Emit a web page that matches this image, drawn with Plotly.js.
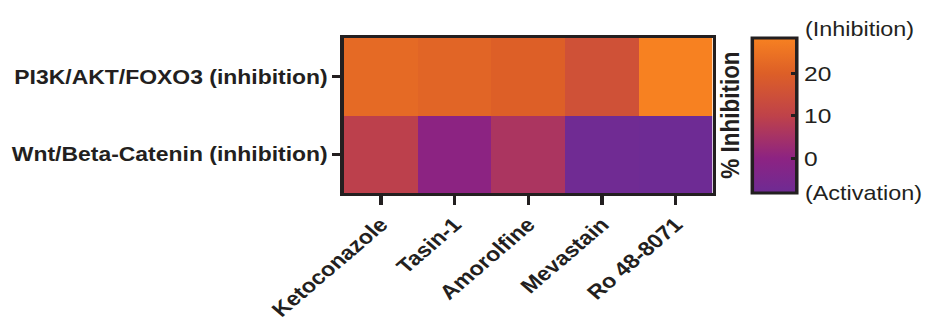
<!DOCTYPE html>
<html>
<head>
<meta charset="utf-8">
<script src="https://cdn.plot.ly/plotly-3.0.1.min.js"></script>
<style>
html,body{margin:0;padding:0;background:#fff;overflow:hidden;width:930px;height:328px;}
#chart{width:795px;height:328px;transform:scaleX(1.17);transform-origin:0 0;}
</style>
</head>
<body>
<div id="chart"></div>
<script>
const compounds = ['Ketoconazole', 'Tasin-1', 'Amorolfine', 'Mevastain', 'Ro 48-8071'];
const pathways = ['PI3K/AKT/FOXO3 (inhibition)', 'Wnt/Beta-Catenin (inhibition)'];
const pi3kValues = [22.6, 21.4, 20.0, 15.3, 28.3];
const wntValues = [9.5, -0.2, 6.0, -7.8, -8.2];
const colorTicks = [0, 10, 20];
const colorMin = -8.2, colorMax = 28.3;

const FONT = 'Arial, "Liberation Sans", sans-serif';
const INK = '#231f20';
const W = 795, H = 328;
const M = {l: 294, r: 186, t: 38, b: 135};
const plotW = W - M.l - M.r;
const cbX = 1.108;

const trace = {
  type: 'heatmap',
  x: compounds,
  y: pathways,
  z: [pi3kValues, wntValues],
  zmin: colorMin,
  zmax: colorMax,
  colorscale: [
    [0, '#6e2b94'],
    [0.225, '#8d2382'],
    [0.5, '#bf4249'],
    [0.773, '#dd5f27'],
    [1, '#f78121']
  ],
  hoverinfo: 'skip',
  colorbar: {
    x: cbX, xanchor: 'left', xref: 'paper',
    y: 0.5, yanchor: 'middle', len: 1, lenmode: 'fraction',
    thickness: 38, thicknessmode: 'pixels',
    outlinewidth: 3, outlinecolor: INK,
    tickvals: colorTicks,
    ticks: 'inside', ticklen: 6, tickwidth: 3, tickcolor: INK,
    tickfont: {family: FONT, size: 21, color: INK},
    xpad: 0, ypad: 0
  }
};

// matching tick marks on the left edge of the colour bar
const cbTickShapes = colorTicks.map(v => ({
  type: 'line', xref: 'paper', yref: 'paper',
  x0: cbX, x1: cbX + 6 / plotW,
  y0: (v - colorMin) / (colorMax - colorMin),
  y1: (v - colorMin) / (colorMax - colorMin),
  line: {color: INK, width: 3}
}));

const layout = {
  width: W, height: H,
  margin: M,
  paper_bgcolor: '#fff', plot_bgcolor: '#fff',
  font: {family: FONT, color: INK},
  xaxis: {
    type: 'category', tickangle: -45,
    showline: true, mirror: true, linewidth: 3, linecolor: INK,
    ticks: 'outside', ticklen: 9, tickwidth: 3, tickcolor: INK,
    tickfont: {family: FONT, size: 20, color: INK, weight: 'bold'},
    showgrid: false, zeroline: false, fixedrange: true
  },
  yaxis: {
    type: 'category', autorange: 'reversed',
    showline: true, mirror: true, linewidth: 3, linecolor: INK,
    ticks: 'outside', ticklen: 7, tickwidth: 3, tickcolor: INK,
    tickfont: {family: FONT, size: 19.6, color: INK, weight: 'bold'},
    showgrid: false, zeroline: false, fixedrange: true
  },
  shapes: cbTickShapes,
  annotations: [
    {text: '% Inhibition', textangle: -90, xref: 'paper', yref: 'paper',
     x: (731 - 343) / 370, y: 0.5, xanchor: 'center', yanchor: 'middle', showarrow: false,
     font: {family: FONT, size: 22.5, color: INK, weight: 'bold'}},
    {text: '(Inhibition)', xref: 'paper', yref: 'paper',
     x: (804 - 343) / 370, y: 1.061, xanchor: 'left', yanchor: 'middle', showarrow: false,
     font: {family: FONT, size: 20, color: INK}},
    {text: '(Activation)', xref: 'paper', yref: 'paper',
     x: (804 - 343) / 370, y: 0.0, xanchor: 'left', yanchor: 'middle', showarrow: false,
     font: {family: FONT, size: 20, color: INK}}
  ]
};

Plotly.newPlot('chart', [trace], layout, {displayModeBar: false, staticPlot: true});
</script>
</body>
</html>
